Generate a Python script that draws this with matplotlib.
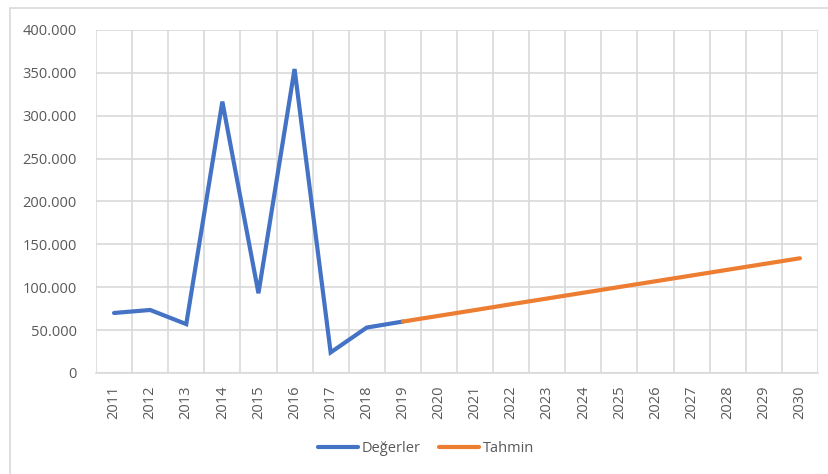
import numpy as np
from matplotlib import pyplot as plt
from matplotlib.patches import Rectangle

plt.rcParams['font.family'] = ['Open Sans', 'DejaVu Sans']

years = [str(y) for y in range(2011, 2031)]
actual_years = years[:9]          # 2011-2019
actual = [70000, 73500, 57000, 316500, 93000, 354500, 24000, 53000, 60000]
fc_years = years[8:]              # 2019-2030
forecast = [60000, 66700, 73400, 80200, 86900, 93600, 100300, 107000, 113700,
            120400, 127100, 133800]

fig = plt.figure(figsize=(8.29, 4.74), dpi=100)
ax = fig.add_axes([96/829, 101/474, 722/829, 343/474])

# outer chart border
fig.patches.append(Rectangle((10/829, -0.1), 1.1, (474 - 8)/474 + 0.1,
                             transform=fig.transFigure, fill=False,
                             edgecolor='#D9D9D9', lw=1.2))

x_all = np.arange(len(years))
x_act = x_all[:9]
x_fc = x_all[8:]

ax.plot(x_act, actual, color='#4472C4', lw=3, label='Değerler',
        solid_capstyle='round', solid_joinstyle='miter', zorder=3)
ax.plot(x_fc, forecast, color='#ED7D31', lw=3, label='Tahmin',
        solid_capstyle='round', zorder=3)

ax.set_xlim(-0.5, len(years) - 0.5)
ax.set_ylim(0, 400000)
ax.set_yticks(np.arange(0, 400001, 50000))
ax.set_yticklabels(['0'] + [f'{v//1000}.000' for v in range(50000, 400001, 50000)])
ax.set_xticks(x_all)
ax.set_xticklabels(years, rotation=90)
ax.set_xticks(np.arange(-0.5, len(years)), minor=True)

ax.grid(axis='y', which='major', color='#D9D9D9', lw=1.2)
ax.grid(axis='x', which='minor', color='#D9D9D9', lw=1.2)
ax.set_axisbelow(True)
for s in ['top', 'right', 'left']:
    ax.spines[s].set_visible(False)
ax.spines['bottom'].set_color('#D9D9D9')
ax.spines['bottom'].set_linewidth(1.2)
ax.tick_params(axis='both', which='both', length=0, colors='#595959',
               labelsize=10.5)
ax.tick_params(axis='y', pad=14)
ax.tick_params(axis='x', pad=9)

leg = fig.legend(loc='center', bbox_to_anchor=(0.514, 0.054), ncol=2,
                 frameon=False, fontsize=10.5, handlelength=2.7,
                 handletextpad=0.25, columnspacing=1.3)
for t in leg.get_texts():
    t.set_color('#595959')

fig.savefig('out.png', dpi=100)
